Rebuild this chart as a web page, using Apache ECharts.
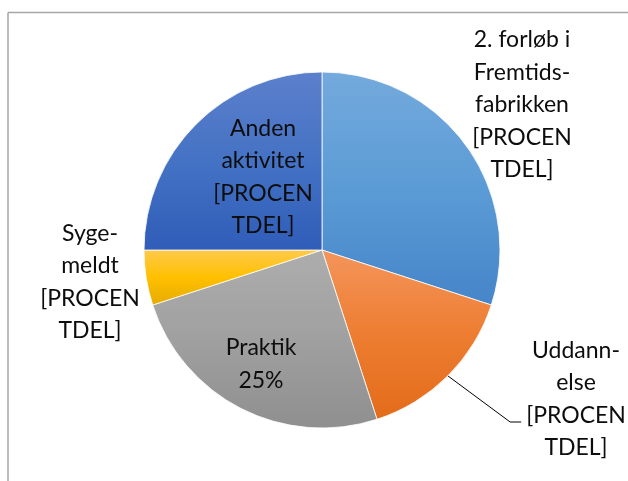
<!DOCTYPE html>
<html>
<head>
<meta charset="utf-8">
<script src="https://cdn.jsdelivr.net/npm/echarts@6/dist/echarts.min.js"></script>
<style>
  html, body { margin: 0; padding: 0; background: #ffffff; }
  #chart { width: 628px; height: 481px; }
</style>
</head>
<body>
<div id="chart"></div>
<script>
// ---- data ----
const categories = ['2. forløb i Fremtidsfabrikken', 'Uddannelse', 'Praktik', 'Sygemeldt', 'Anden aktivitet'];
const values = [30, 15, 25, 5, 25];
const labelTexts = [
  '2. forløb i\nFremtids-\nfabrikken\n[PROCEN\nTDEL]',
  'Uddann-\nelse\n[PROCEN\nTDEL]',
  'Praktik\n25%',
  'Syge-\nmeldt\n[PROCEN\nTDEL]',
  'Anden\naktivitet\n[PROCEN\nTDEL]'
];

// ---- styles / positions ----
const gradients = [
  ['#74aadd', '#5b9bd5', '#4585c9'],
  ['#f4955c', '#ed7d31', '#e36c1a'],
  ['#adadad', '#a0a0a0', '#8f8f8f'],
  ['#ffca4c', '#ffc000', '#e5ab00'],
  ['#5c80cc', '#4472c4', '#2f5db8']
];
const labelCenters = [[522, 105], [576, 399], [261, 364], [90, 282], [263, 177]];
const leaderItem = 1;

const chart = echarts.init(document.getElementById('chart'), null, { renderer: 'canvas' });

const dataItems = categories.map((name, i) => ({
  name: name,
  value: values[i],
  itemStyle: {
    color: {
      type: 'linear', x: 0, y: 0, x2: 0, y2: 1,
      colorStops: [
        { offset: 0, color: gradients[i][0] },
        { offset: 0.5, color: gradients[i][1] },
        { offset: 1, color: gradients[i][2] }
      ]
    }
  },
  labelLine: { show: i === leaderItem }
}));

chart.setOption({
  animation: false,
  backgroundColor: '#ffffff',
  graphic: [
    { type: 'line', shape: { x1: 8, y1: 12.5, x2: 640, y2: 12.5 }, style: { stroke: '#a6a6a6', lineWidth: 1.5 } },
    { type: 'line', shape: { x1: 8, y1: 12.5, x2: 8, y2: 500 }, style: { stroke: '#a6a6a6', lineWidth: 1.5 } }
  ],
  series: [{
    type: 'pie',
    center: [322, 250],
    radius: 178,
    startAngle: 90,
    clockwise: true,
    avoidLabelOverlap: false,
    itemStyle: { borderColor: '#ffffff', borderWidth: 0.8 },
    label: {
      show: true,
      position: 'outside',
      formatter: p => labelTexts[p.dataIndex],
      fontFamily: 'Lato',
      fontSize: 23,
      lineHeight: 32.5,
      color: '#0d0d0d',
      align: 'center'
    },
    labelLine: {
      show: false,
      length: 20,
      length2: 10,
      lineStyle: { color: '#000000', width: 1 }
    },
    labelLayout: function (params) {
      const c = labelCenters[params.dataIndex];
      const res = { x: c[0], y: c[1], align: 'center', verticalAlign: 'middle' };
      if (params.dataIndex === leaderItem && params.labelLinePoints) {
        const start = params.labelLinePoints[0];
        const w = params.labelRect.width;
        const left = c[0] - w / 2;
        const yLine = c[1] + 23;
        res.labelLinePoints = [start, [left - 16, yLine], [left - 5, yLine]];
      }
      return res;
    },
    data: dataItems
  }]
});
</script>
</body>
</html>
